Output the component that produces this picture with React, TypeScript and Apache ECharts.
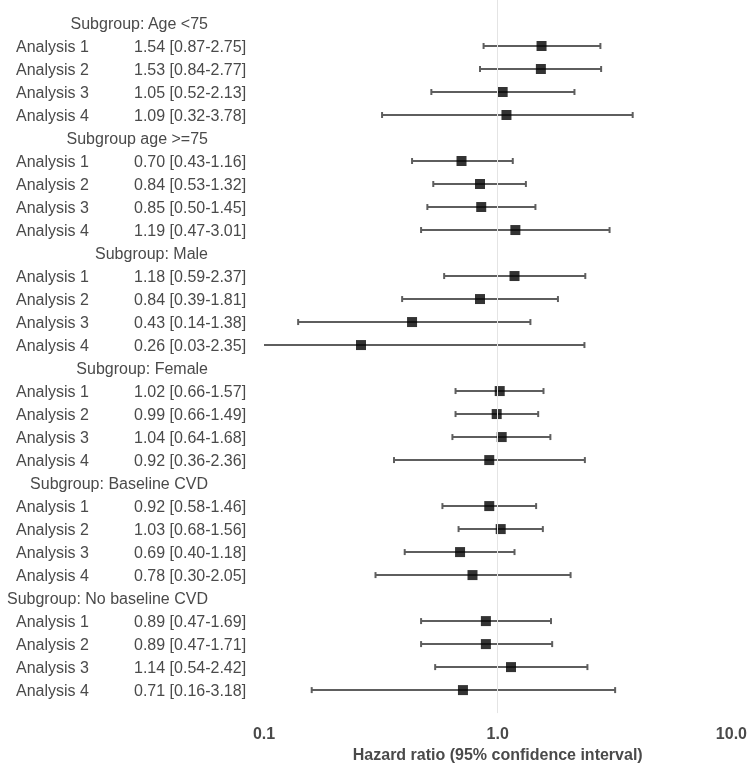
import React, { useEffect, useRef } from "react";
import * as echarts from "echarts";

const groupNames = [
  "Subgroup: Age <75",
  "Subgroup age >=75",
  "Subgroup: Male",
  "Subgroup: Female",
  "Subgroup: Baseline CVD",
  "Subgroup: No baseline CVD",
];
const analysisNames = ["Analysis 1", "Analysis 2", "Analysis 3", "Analysis 4"];

const hr = [
  [1.54, 1.53, 1.05, 1.09],
  [0.70, 0.84, 0.85, 1.19],
  [1.18, 0.84, 0.43, 0.26],
  [1.02, 0.99, 1.04, 0.92],
  [0.92, 1.03, 0.69, 0.78],
  [0.89, 0.89, 1.14, 0.71],
];
const lower = [
  [0.87, 0.84, 0.52, 0.32],
  [0.43, 0.53, 0.50, 0.47],
  [0.59, 0.39, 0.14, 0.03],
  [0.66, 0.66, 0.64, 0.36],
  [0.58, 0.68, 0.40, 0.30],
  [0.47, 0.47, 0.54, 0.16],
];
const upper = [
  [2.75, 2.77, 2.13, 3.78],
  [1.16, 1.32, 1.45, 3.01],
  [2.37, 1.81, 1.38, 2.35],
  [1.57, 1.49, 1.68, 2.36],
  [1.46, 1.56, 1.18, 2.05],
  [1.69, 1.71, 2.42, 3.18],
];

const xTicks = [0.1, 1, 10];
const X_MIN = 0.1;
const X_MAX = 10;
const xTitle = "Hazard ratio (95% confidence interval)";

export default function App() {
  const ref = useRef<HTMLDivElement>(null);

  useEffect(() => {
    if (!ref.current) return;
    const chart = echarts.init(ref.current, undefined, { renderer: "svg" });

    const keys: string[] = ["pad_top"];
    const labels: string[] = [""];
    const points: number[][] = [];
    const bars: number[][] = [];
    groupNames.forEach((g, gi) => {
      keys.push("g" + gi);
      labels.push("{h|" + g + "}{s| }");
      analysisNames.forEach((a, ai) => {
        const idx = keys.length;
        keys.push("g" + gi + "a" + ai);
        const txt =
          hr[gi][ai].toFixed(2) +
          " [" +
          lower[gi][ai].toFixed(2) +
          "-" +
          upper[gi][ai].toFixed(2) +
          "]";
        labels.push("{a|" + a + "}{v|" + txt + "}");
        points.push([hr[gi][ai], idx]);
        bars.push([lower[gi][ai], upper[gi][ai], idx]);
      });
    });
    keys.push("pad_bottom");
    labels.push("");

    const barColor = "#5e5e5e";
    const textColor = "#4a4a4a";
    const font = "Liberation Sans, Arial, sans-serif";

    chart.setOption({
      animation: false,
      grid: { left: 264, right: 11, top: 0, bottom: 52 },
      xAxis: {
        type: "log",
        logBase: 10,
        min: X_MIN,
        max: X_MAX,
        axisLine: { show: false },
        axisTick: { show: false },
        splitLine: { show: false },
        axisLabel: {
          margin: 12,
          fontFamily: font,
          fontSize: 16,
          fontWeight: "bold",
          color: textColor,
          formatter: (v: number) => {
            const t = xTicks.find((x) => Math.abs(x - v) / x < 1e-6);
            return t === undefined ? "" : t.toFixed(1);
          },
        },
        name: xTitle,
        nameLocation: "middle",
        nameGap: 31,
        nameTextStyle: {
          fontFamily: font,
          fontSize: 16,
          fontWeight: "bold",
          color: textColor,
        },
      },
      yAxis: {
        type: "category",
        data: keys,
        inverse: true,
        boundaryGap: false,
        axisLine: { show: false },
        axisTick: { show: false },
        splitLine: { show: false },
        axisLabel: {
          interval: 0,
          margin: 14,
          formatter: (_v: string, i: number) => labels[i],
          rich: {
            a: { width: 118, align: "left", fontFamily: font, fontSize: 16, color: textColor },
            v: { width: 116, align: "left", fontFamily: font, fontSize: 16, color: textColor },
            h: { width: 192, align: "right", fontFamily: font, fontSize: 16, color: textColor },
            s: { width: 42, fontSize: 16 },
          },
        },
      },
      series: [
        {
          type: "line",
          data: [],
          silent: true,
          z: 0,
          markLine: {
            silent: true,
            symbol: ["none", "none"],
            label: { show: false },
            lineStyle: { color: "#e4e4e4", type: "solid", width: 1 },
            data: [{ xAxis: 1 }],
          },
        },
        {
          type: "custom",
          z: 2,
          silent: true,
          encode: { x: [0, 1], y: 2 },
          data: bars,
          renderItem: (_params: any, api: any) => {
            const lo = api.value(0);
            const hi = api.value(1);
            const row = api.value(2);
            const loC = Math.max(lo, X_MIN);
            const hiC = Math.min(hi, X_MAX);
            const p1 = api.coord([loC, row]);
            const p2 = api.coord([hiC, row]);
            const style = { stroke: barColor, lineWidth: 2 };
            const children: any[] = [
              { type: "line", shape: { x1: p1[0], y1: p1[1], x2: p2[0], y2: p2[1] }, style },
            ];
            const capH = 3;
            if (lo >= X_MIN) {
              children.push({
                type: "line",
                shape: { x1: p1[0], y1: p1[1] - capH, x2: p1[0], y2: p1[1] + capH },
                style,
              });
            }
            if (hi <= X_MAX) {
              children.push({
                type: "line",
                shape: { x1: p2[0], y1: p2[1] - capH, x2: p2[0], y2: p2[1] + capH },
                style,
              });
            }
            return { type: "group", children };
          },
        },
        {
          type: "scatter",
          z: 3,
          symbol: "rect",
          symbolSize: 10,
          itemStyle: { color: "#000000" },
          data: points,
        },
      ],
    });

    return () => chart.dispose();
  }, []);

  return (
    <div ref={ref} style={{ position: "fixed", left: 0, top: 0, width: 750, height: 767 }} />
  );
}
